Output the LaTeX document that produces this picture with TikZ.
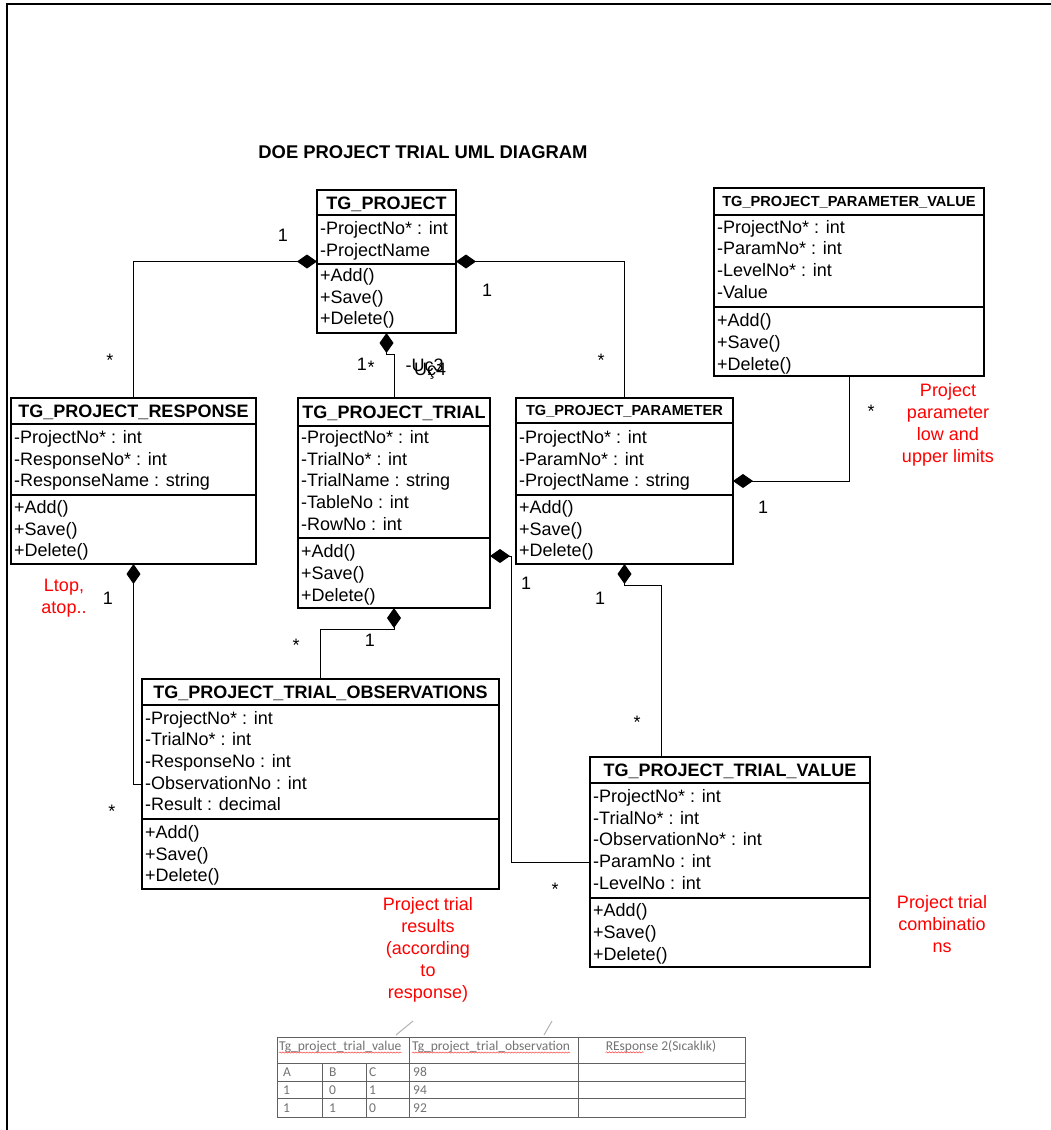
\documentclass[tikz,border=0pt]{standalone}
\usepackage{fontspec}
\setmainfont{Liberation Sans}
\newfontfamily\tabfont{Carlito}
\usetikzlibrary{arrows.meta,decorations.pathmorphing}

% class frame: name, left, top, right, bottom, header line y, divider y
\newcommand\classframe[7]{%
  \node[box, minimum width={#4-#2}, minimum height={#5-#3}] (#1) at (#2,#3) {};
  \draw[divline] (#2,#6) -- (#4,#6);
  \draw[divline] (#2,#7) -- (#4,#7);
}
% rows of a compartment: name prefix, x, first baseline, list of lines
\newcommand\classrows[4]{%
  \foreach \t [count=\i] in {#4}{\node[attr] (#1\i) at (#2,{#3+(\i-1)*21.7}) {\t};}%
}

\begin{document}
\begin{tikzpicture}[x=1pt,y=-1pt,
  box/.style={draw=black,line width=1.3pt,inner sep=0pt,outer sep=0pt,anchor=north west,fill=white},
  divline/.style={draw=black,line width=1.3pt},
  ctitle/.style={font=\fontsize{18}{22}\selectfont\bfseries,inner sep=0pt,anchor=base},
  stitle/.style={font=\fontsize{14.6}{18}\selectfont\bfseries,inner sep=0pt,anchor=base},
  attr/.style={font=\fontsize{18}{22}\selectfont,inner sep=0pt,anchor=base west},
  comp/.style={draw=black,line width=1pt,-{Diamond[length=20pt,width=14pt]}},
  one/.style={font=\fontsize{18}{22}\selectfont,inner sep=0pt},
  many/.style={font=\fontsize{18}{22}\selectfont,inner sep=0pt,anchor=base},
  note/.style={font=\fontsize{18}{22}\selectfont,text=red,align=center,inner sep=0pt,anchor=north},
  tline/.style={draw=black!62,line width=1pt},
  ttext/.style={font=\tabfont\fontsize{13.5}{15}\selectfont,text=black!55,inner sep=0pt},
  squig/.style={draw=red!75,line width=0.5pt,decorate,decoration={snake,amplitude=0.6pt,segment length=3pt}},
]
\useasboundingbox (0,0) rectangle (1051,1130);
\fill[white] (0,0) rectangle (1051,1130);

% page frame
\draw[line width=2pt] (5.7,4.3) -- (1051,4.3);
\draw[line width=2pt] (6.7,3.3) -- (6.7,1130);

% heading
\node[font=\fontsize{18.4}{21}\selectfont\bfseries,inner sep=0pt] (heading) at (423,152) {DOE PROJECT TRIAL UML DIAGRAM};

% ---- classes ----
\classframe{proj}{317}{190}{456}{333}{215}{264}
\node[ctitle] (projt) at (386.5,209) {TG\_PROJECT};
\classrows{proja}{320}{234.5}{-ProjectNo* : int,-ProjectName}
\classrows{projm}{320}{281.5}{+Add(),+Save(),+Delete()}

\classframe{pv}{714}{188}{984}{376}{215}{307}
\node[stitle] (pvt) at (849,206.7) {TG\_PROJECT\_PARAMETER\_VALUE};
\classrows{pva}{717}{233}{-ProjectNo* : int,-ParamNo* : int,-LevelNo* : int,-Value}
\classrows{pvm}{717}{326.7}{+Add(),+Save(),+Delete()}

\classframe{resp}{11}{398}{256}{564}{424}{495}
\node[ctitle] (respt) at (133.5,417.4) {TG\_PROJECT\_RESPONSE};
\classrows{respa}{14}{443.3}{-ProjectNo* : int,-ResponseNo* : int,-ResponseName : string}
\classrows{respm}{14}{513.3}{+Add(),+Save(),+Delete()}

\classframe{trial}{298}{398}{490}{608}{426}{538}
\node[ctitle] (trialt) at (394,418.4) {TG\_PROJECT\_TRIAL};
\classrows{triala}{301}{443.3}{-ProjectNo* : int,-TrialNo* : int,-TrialName : string,-TableNo : int,-RowNo : int}
\classrows{trialm}{301}{557.7}{+Add(),+Save(),+Delete()}

\classframe{param}{516}{398}{733}{564}{423}{495}
\node[stitle] (paramt) at (624.5,415.7) {TG\_PROJECT\_PARAMETER};
\classrows{parama}{519}{443.3}{-ProjectNo* : int,-ParamNo* : int,-ProjectName : string}
\classrows{paramm}{519}{513.3}{+Add(),+Save(),+Delete()}

\classframe{obs}{142}{679}{499}{889}{705}{819}
\node[ctitle] (obst) at (320.5,698.4) {TG\_PROJECT\_TRIAL\_OBSERVATIONS};
\classrows{obsa}{145}{724}{-ProjectNo* : int,-TrialNo* : int,-ResponseNo : int,-ObservationNo : int,-Result : decimal}
\classrows{obsm}{145}{838.3}{+Add(),+Save(),+Delete()}

\classframe{tv}{590}{757}{870}{967}{783}{898}
\node[ctitle] (tvt) at (730,776.4) {TG\_PROJECT\_TRIAL\_VALUE};
\classrows{tva}{593}{802.3}{-ProjectNo* : int,-TrialNo* : int,-ObservationNo* : int,-ParamNo : int,-LevelNo : int}
\classrows{tvm}{593}{916.7}{+Add(),+Save(),+Delete()}

% ---- composition connectors ----
\coordinate (b1) at (394,354);
\coordinate (b2) at (320.5,629);
\coordinate (b3) at (511,556);
\coordinate (b4) at (849,481);
\coordinate (b5) at (661,585);

\draw[comp] (resp.north) |- (proj.west);
\draw[comp] (param.north) |- (proj.east);
\draw[comp] (trial.north) -- (b1) -| (proj.south);
\draw[comp] (obs.west) -| (resp.south);
\draw[comp] (obs.north) -- (b2) -| (trial.south);
\draw[comp] (tv.west) -| (b3) -- (trial.east |- b3);
\draw[comp] (pv.south) -- (b4) -- (param.east |- b4);
\draw[comp] (tv.north -| b5) -- (b5) -| (param.south);

% ---- multiplicities ----
\node[one] (m1) at (283,235) {1};
\node[one] (m2) at (487,290) {1};
\node[one] (m3) at (108,598) {1};
\node[one] (m4) at (370,640) {1};
\node[one] (m5) at (763,507) {1};
\node[one] (m6) at (526,583) {1};
\node[one] (m7) at (600,598) {1};
\node[one] (m8) at (362,364) {1};
\node[many] (s1) at (110,366.4) {*};
\node[many] (s2) at (601,366.4) {*};
\node[many] (s3) at (296,651.4) {*};
\node[many] (s4) at (871,417.4) {*};
\node[many] (s5) at (637,728.4) {*};
\node[many] (s6) at (112,817.4) {*};
\node[many] (s7) at (555,895.4) {*};
\node[many] (s8) at (371,373.4) {*};
\node[attr] (u3) at (405.5,371) {-Uç3};
\node[attr] (u4) at (414,375.5) {Uç4};

% ---- notes ----
\node[note] (n1) at (948,383.3) {Project\\parameter\\low and\\upper limits};
\node[note] (n2) at (942,895) {Project trial\\combinatio\\ns};
\node[note] (n3) at (428,897.5) {Project trial\\results\\(according\\to\\response)};
\node[note] (n4) at (64,579.3) {Ltop,\\atop..};

% ---- sample table ----
\draw[draw=black!30,line width=1pt] (413,1021) -- (396,1035);
\draw[draw=black!30,line width=1pt] (552,1021) -- (544,1035);
\draw[tline] (277,1037) rectangle (745,1117);
\draw[tline] (277,1063) -- (745,1063);
\draw[tline] (277,1081) -- (745,1081);
\draw[tline] (277,1098) -- (745,1098);
\draw[tline] (409,1037) -- (409,1117);
\draw[tline] (578,1037) -- (578,1117);
\draw[tline] (322,1063) -- (322,1117);
\draw[tline] (366,1063) -- (366,1117);
\node[ttext,anchor=base west] (h1) at (279,1050) {Tg\_project\_trial\_value};
\node[ttext,anchor=base west] (h2) at (412,1050) {Tg\_project\_trial\_observation};
\node[ttext,anchor=base] (h3) at (661,1050) {REsponse 2(Sıcaklık)};
\draw[squig] (h1.south west) -- (h1.south east);
\draw[squig] (h2.south west) -- (h2.south east);
\draw[squig] (h3.south west) -- ++(38,0);
\foreach \a/\b/\c/\d/\y [count=\k] in {A/B/C/98/1076.5,1/0/1/94/1094,1/1/0/92/1112}{
  \node[ttext,anchor=base west] (ca\k) at (283,\y) {\a};
  \node[ttext,anchor=base west] (cb\k) at (329,\y) {\b};
  \node[ttext,anchor=base west] (cc\k) at (369,\y) {\c};
  \node[ttext,anchor=base west] (cd\k) at (413,\y) {\d};
}
\end{tikzpicture}
\end{document}
